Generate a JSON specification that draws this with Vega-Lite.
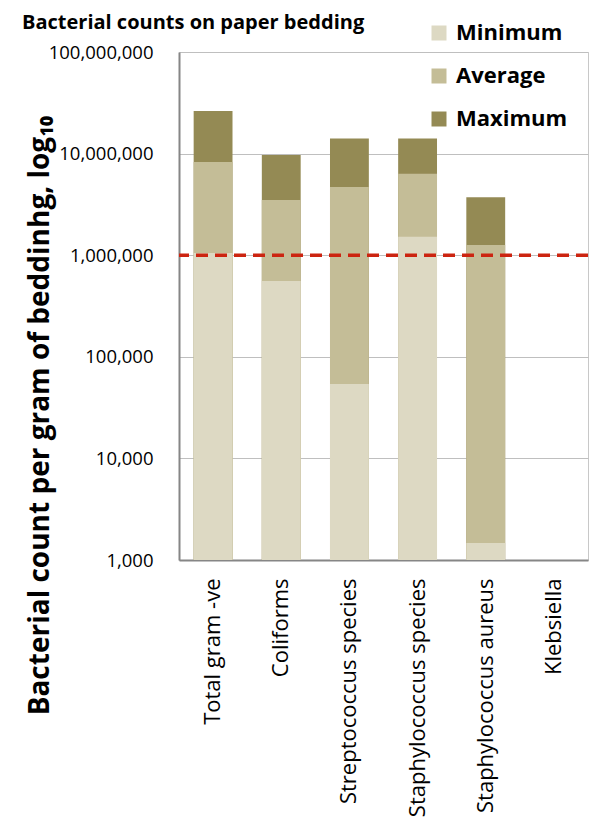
{
  "$schema": "https://vega.github.io/schema/vega-lite/v6.json",
  "width": 409,
  "height": 508,
  "autosize": "none",
  "padding": {"left": 179, "top": 52, "right": 3, "bottom": 270},
  "background": "white",
  "title": {
    "text": "Bacterial counts on paper bedding",
    "anchor": "start",
    "frame": "group",
    "dx": -157,
    "offset": -11,
    "font": "Open Sans",
    "fontSize": 20,
    "fontWeight": "bold",
    "color": "black"
  },
  "config": {
    "font": "Open Sans",
    "view": {"stroke": "#C8C8C8", "strokeWidth": 1}
  },
  "data": {
    "values": [
      {"organism": "Total gram -ve", "series": "Maximum", "count": 26300000},
      {"organism": "Coliforms", "series": "Maximum", "count": 9700000},
      {"organism": "Streptococcus species", "series": "Maximum", "count": 14100000},
      {"organism": "Staphylococcus species", "series": "Maximum", "count": 14100000},
      {"organism": "Staphylococcus aureus", "series": "Maximum", "count": 3720000},
      {"organism": "Total gram -ve", "series": "Average", "count": 8260000},
      {"organism": "Coliforms", "series": "Average", "count": 3490000},
      {"organism": "Streptococcus species", "series": "Average", "count": 4690000},
      {"organism": "Staphylococcus species", "series": "Average", "count": 6340000},
      {"organism": "Staphylococcus aureus", "series": "Average", "count": 1260000},
      {"organism": "Total gram -ve", "series": "Minimum", "count": 1050000},
      {"organism": "Coliforms", "series": "Minimum", "count": 557000},
      {"organism": "Streptococcus species", "series": "Minimum", "count": 54000},
      {"organism": "Staphylococcus species", "series": "Minimum", "count": 1520000},
      {"organism": "Staphylococcus aureus", "series": "Minimum", "count": 1470}
    ]
  },
  "layer": [
    {
      "mark": {"type": "bar"},
      "encoding": {
        "x": {
          "field": "organism",
          "type": "nominal",
          "sort": null,
          "scale": {
            "domain": ["Total gram -ve", "Coliforms", "Streptococcus species", "Staphylococcus species", "Staphylococcus aureus", "Klebsiella"],
            "paddingInner": 0.43,
            "paddingOuter": 0.215
          },
          "axis": {
            "title": null,
            "labelAngle": -90,
            "labelFontSize": 22,
            "labelColor": "black",
            "labelPadding": 18,
            "labelLimit": 0,
            "ticks": false,
            "domainColor": "#868686",
            "domainWidth": 2,
            "grid": false
          }
        },
        "y": {
          "field": "count",
          "type": "quantitative",
          "stack": null,
          "scale": {"type": "log", "domain": [1000, 100000000], "nice": false},
          "axis": {
            "values": [1000, 10000, 100000, 1000000, 10000000, 100000000],
            "format": ",d",
            "labelFontSize": 18.5,
            "labelColor": "black",
            "labelPadding": 26,
            "ticks": false,
            "grid": true,
            "gridColor": "#BFBFBF",
            "gridWidth": 1,
            "domainColor": "#868686",
            "domainWidth": 2,
            "title": "Bacterial count per gram of beddinhg, log₁₀",
            "titleFontSize": 28,
            "titleFontWeight": "bold",
            "titleColor": "black",
            "titleX": -125,
            "titleY": 363,
            "titleAngle": -90,
            "titleBaseline": "bottom",
            "titleAlign": "center",
            "encode": {
              "labels": {
                "update": {"dx": {"signal": "datum.value >= 100000000 ? -18 : 0"}}
              }
            }
          }
        },
        "color": {
          "field": "series",
          "type": "nominal",
          "scale": {
            "domain": ["Minimum", "Average", "Maximum"],
            "range": ["#DDD9C3", "#C4BD97", "#948A54"]
          },
          "legend": {
            "orient": "none",
            "legendX": 249,
            "legendY": -30,
            "title": null,
            "labelFontSize": 22,
            "labelFontWeight": "bold",
            "labelColor": "black",
            "symbolType": "square",
            "symbolSize": 225,
            "symbolStrokeWidth": 0,
            "rowPadding": 21,
            "labelOffset": 6
          }
        }
      }
    },
    {
      "data": {"values": [{"threshold": 1000000}]},
      "mark": {"type": "rule", "color": "#CC2410", "strokeWidth": 3.5, "strokeDash": [12, 7]},
      "encoding": {
        "y": {"field": "threshold", "type": "quantitative"}
      }
    }
  ]
}
